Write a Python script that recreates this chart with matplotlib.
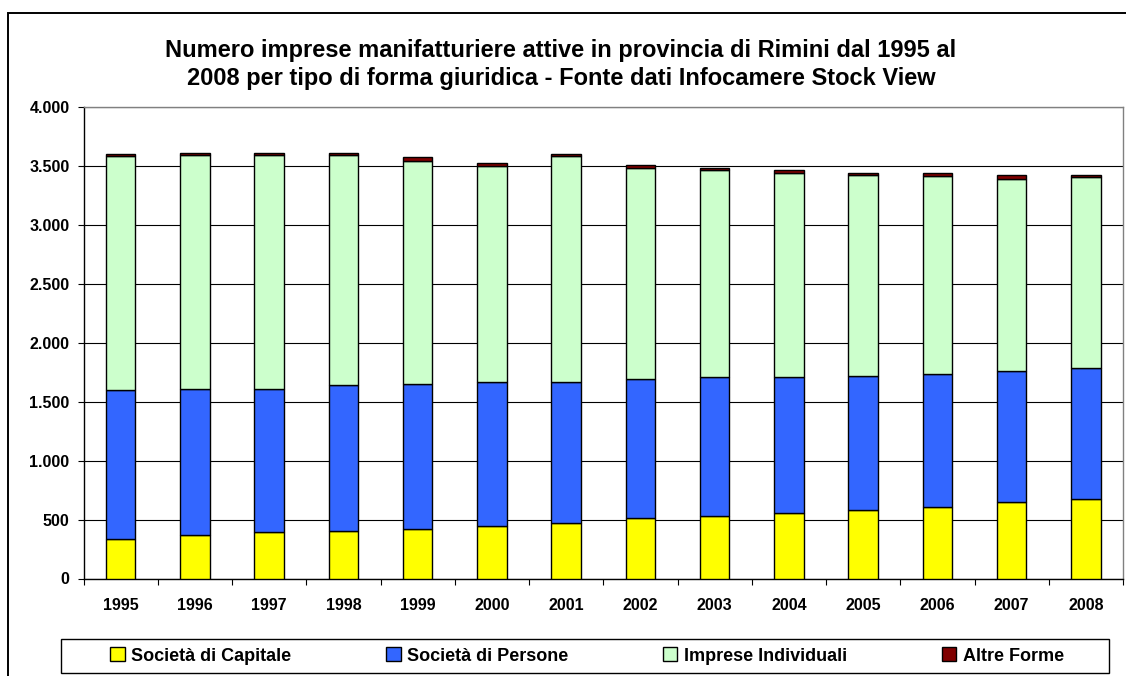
import matplotlib
matplotlib.use("Agg")
import matplotlib.pyplot as plt
import numpy as np
from matplotlib.patches import Rectangle

years = ["1995", "1996", "1997", "1998", "1999", "2000", "2001",
         "2002", "2003", "2004", "2005", "2006", "2007", "2008"]
societa_capitale = [337, 366, 394, 405, 419, 447, 470, 510, 527, 552, 580, 608, 648, 676]
societa_persone = [1260, 1246, 1218, 1235, 1232, 1218, 1195, 1181, 1181, 1156, 1139, 1128, 1110, 1108]
imprese_individuali = [1990, 1984, 1984, 1956, 1894, 1838, 1922, 1790, 1756, 1735, 1707, 1679, 1634, 1626]
altre_forme = [15, 20, 20, 20, 30, 20, 15, 25, 18, 28, 15, 25, 30, 15]

series_names = ["Società di Capitale", "Società di Persone", "Imprese Individuali", "Altre Forme"]
series_colors = ["#FFFF00", "#3366FF", "#CCFFCC", "#800000"]
yticks = [0, 500, 1000, 1500, 2000, 2500, 3000, 3500, 4000]

plt.rcParams['font.family'] = ['Liberation Sans', 'DejaVu Sans']
plt.rcParams['font.weight'] = 'bold'

W, H = 1126, 676
fig = plt.figure(figsize=(W / 100, H / 100), dpi=100)

# outer chart border
fig.patches.append(Rectangle((8 / W, -0.2), 1.2, 1 - 13 / H + 0.2, transform=fig.transFigure,
                             fill=False, edgecolor='black', linewidth=1.4, zorder=0))
# legend box
fig.patches.append(Rectangle((61 / W, 1 - 673 / H), (1109 - 61) / W, 34 / H, transform=fig.transFigure,
                             fill=False, edgecolor='black', linewidth=1.0, zorder=0))

left, right, top, bottom = 83.5, 1123, 107.3, 578.5
ax = fig.add_axes([left / W, 1 - bottom / H, (right - left) / W, (bottom - top) / H])

x = np.arange(len(years))
data = [societa_capitale, societa_persone, imprese_individuali, altre_forme]
base = np.zeros(len(years))
handles = []
for vals, name, col in zip(data, series_names, series_colors):
    b = ax.bar(x, vals, width=0.40, bottom=base, color=col, edgecolor='black',
               linewidth=1.0, label=name, zorder=3)
    handles.append(b)
    base = base + np.array(vals)

ax.set_xlim(-0.5, len(years) - 0.5)
ax.set_ylim(0, 4000)
ax.set_yticks(yticks)
ax.set_yticklabels([f"{v:,}".replace(",", ".") for v in yticks], fontsize=11.5, fontweight='bold')
ax.yaxis.grid(True, color='black', linewidth=0.8, zorder=0)
ax.set_axisbelow(True)

ax.set_xticks(np.arange(-0.5, len(years), 1.0))
ax.set_xticklabels([])
ax.set_xticks(x, minor=True)
ax.set_xticklabels(years, minor=True, fontsize=11.5, fontweight='bold')
ax.tick_params(axis='x', which='major', length=4, width=0.8, direction='out')
ax.tick_params(axis='x', which='minor', length=0, pad=14)
ax.tick_params(axis='y', length=4, width=0.8, direction='out', pad=6)

ax.spines['left'].set_color('black')
ax.spines['bottom'].set_color('black')
ax.spines['top'].set_color('#808080')
ax.spines['right'].set_color('#808080')
for s in ax.spines.values():
    s.set_linewidth(1.0)

fig.text(561 / W, 1 - 57 / H, "Numero imprese manifatturiere attive in provincia di Rimini dal 1995 al",
         ha='center', va='baseline', fontsize=17, fontweight='bold')
fig.text(561 / W, 1 - 85 / H, "2008 per tipo di forma giuridica - Fonte dati Infocamere Stock View",
         ha='center', va='baseline', fontsize=17, fontweight='bold')

leg = fig.legend(handles, series_names, loc='center', ncol=4, mode='expand',
                 bbox_to_anchor=(104 / W, 1 - 673 / H, (1070 - 104) / W, 34 / H),
                 bbox_transform=fig.transFigure, fontsize=13, frameon=False,
                 handlelength=0.8, handleheight=0.8, handletextpad=0.35, borderpad=0.35,
                 borderaxespad=0)
for t in leg.get_texts():
    t.set_fontweight('bold')

fig.savefig("out.png", dpi=100)
